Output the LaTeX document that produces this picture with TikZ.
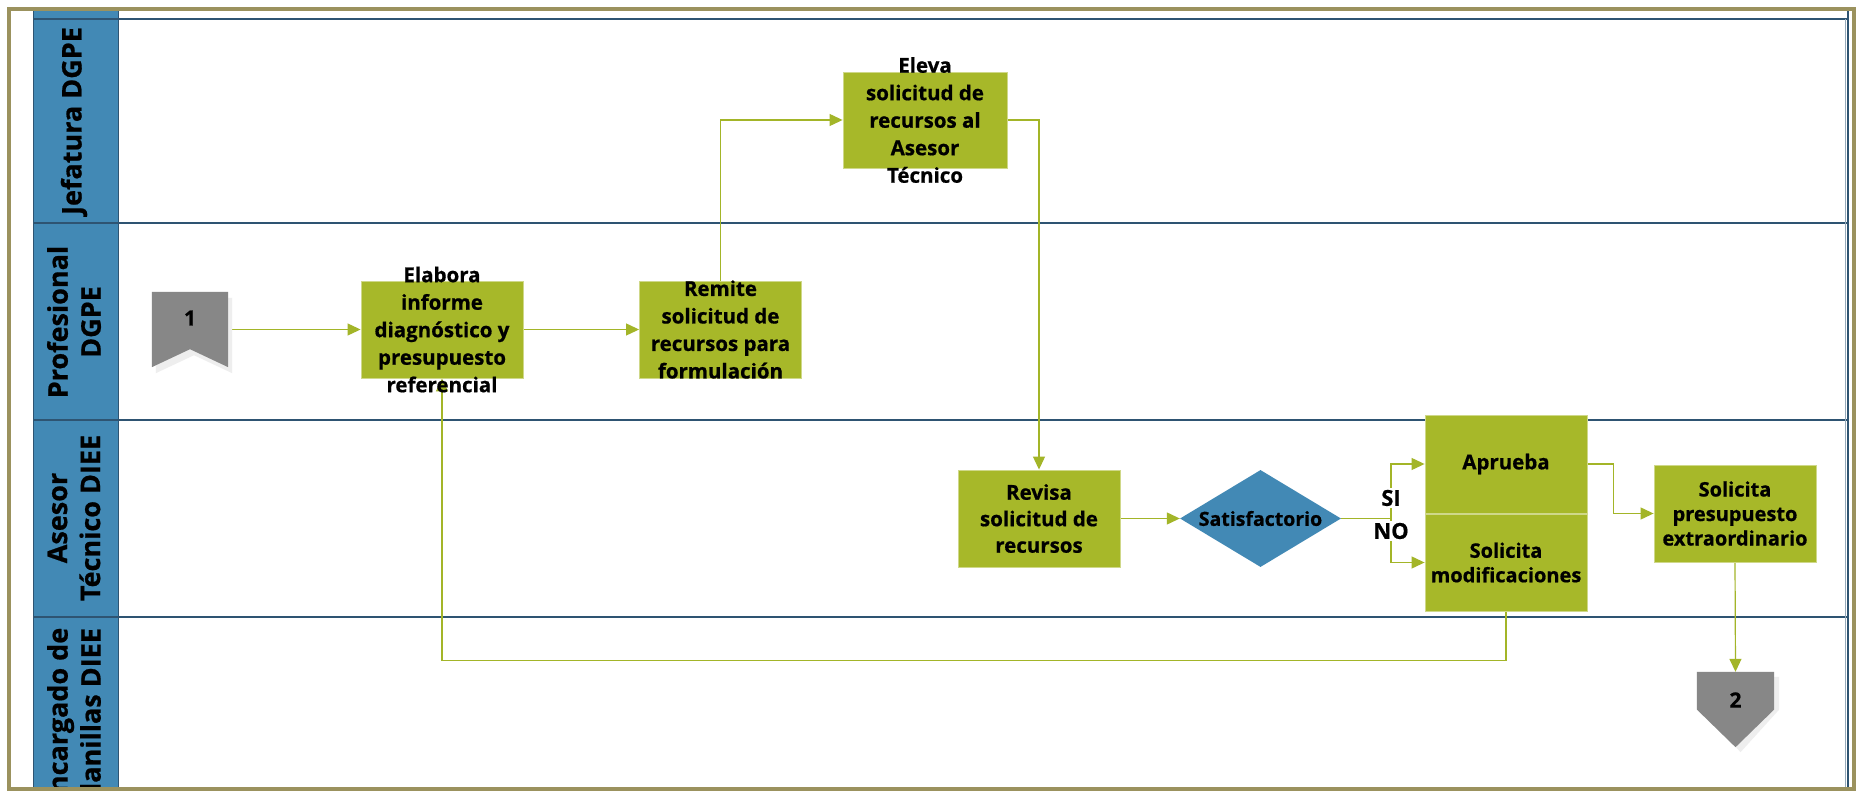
\documentclass[tikz,border=0pt]{standalone}
\usepackage{fontspec}
\setmainfont{Open Sans}[BoldFeatures={FakeBold=0.7}]
\usetikzlibrary{arrows.meta,shapes.geometric}
\pgfdeclarelayer{lanes}
\pgfdeclarelayer{flows}
\pgfsetlayers{lanes,flows,main}
\definecolor{frameolive}{RGB}{155,146,94}
\definecolor{lanehead}{RGB}{66,137,181}
\definecolor{laneline}{RGB}{46,84,114}
\definecolor{taskgreen}{RGB}{167,184,41}
\definecolor{flowgreen}{RGB}{163,181,40}
\definecolor{pagegray}{RGB}{135,135,135}
\definecolor{shadowgray}{RGB}{238,238,238}
\tikzset{
  taskbox/.style={draw=taskgreen!55!white, line width=0.9, fill=taskgreen,
    minimum width=162, minimum height=97, inner sep=0},
  tasktext/.style={font=\bfseries\fontsize{20.5}{27.5}\selectfont, align=center, inner sep=0},
  tighttext/.style={font=\bfseries\fontsize{20}{24.5}\selectfont, align=center, inner sep=0},
  decision/.style={diamond, fill=lanehead, minimum width=161, minimum height=97, inner sep=0},
  flow/.style={draw=flowgreen, line width=1.2, -{Triangle[length=13,width=12]}},
  flowline/.style={draw=flowgreen, line width=1.2},
  lanetext/.style={font=\bfseries\fontsize{27}{33}\selectfont, rotate=90, align=center},
  branchtext/.style={font=\bfseries\fontsize{22}{24}\selectfont, fill=white, inner sep=1.5},
  pagebox/.style={minimum width=76, minimum height=75, inner sep=0},
  pagetext/.style={font=\bfseries\fontsize{21}{24}\selectfont}
}
\begin{document}
\begin{tikzpicture}[x=1pt,y=-1pt]
\useasboundingbox (0,0) rectangle (1864,791);

% swimlanes
\begin{pgfonlayer}{lanes}
  \fill[white] (0,0) rectangle (1864,791);
  \begin{scope}
    \clip (9,9) rectangle (1854,789);
    \fill[lanehead] (33,9) rectangle (118,795);
    \draw[laneline, line width=1] (33,9) -- (33,795) (118,9) -- (118,795);
    \foreach \yy in {19,223,420,617}
      \draw[laneline, line width=1.3] (33,\yy) -- (1847,\yy);
    \draw[laneline!50!white, line width=1] (1845,19) -- (1845,795);
    \draw[laneline, line width=1.3] (1848,9) -- (1848,795);
    \node[lanetext] (lane1) at (74,121) {Jefatura DGPE};
    \node[lanetext] (lane2) at (74,322) {Profesional\\DGPE};
    \node[lanetext] (lane3) at (74,518) {Asesor\\Técnico DIEE};
    \node[lanetext] (lane4) at (74,718) {Encargado de\\Planillas DIEE};
  \end{scope}
  \draw[frameolive, line width=3.8] (9,9) rectangle (1854,789);
\end{pgfonlayer}

% off-page connector 1 (bookmark shape with a notch underneath)
\node[pagebox] (c1) at (190,329.5) {};
\fill[shadowgray] ([shift={(4,6)}]c1.north west) -- ([shift={(4,6)}]c1.north east)
  -- ([shift={(4,6)}]c1.south east) -- ([shift={(4,-12)}]c1.south)
  -- ([shift={(4,6)}]c1.south west) -- cycle;
\fill[pagegray] (c1.north west) -- (c1.north east) -- (c1.south east)
  -- ([yshift=18]c1.south) -- (c1.south west) -- cycle;
\node[pagetext] at (190,318) {1};

% off-page connector 2 (pentagon pointing down)
\node[pagebox, minimum width=77] (c2) at (1735.5,709.5) {};
\fill[shadowgray] ([shift={(5,5)}]c2.north west) -- ([shift={(5,5)}]c2.north east)
  -- ([shift={(5,0)}]c2.east) -- ([shift={(5,5)}]c2.south) -- ([shift={(5,0)}]c2.west) -- cycle;
\fill[pagegray] (c2.north west) -- (c2.north east) -- (c2.east) -- (c2.south) -- (c2.west) -- cycle;
\node[pagetext] at (1735.5,700) {2};

% tasks
\node[taskbox, label={[tasktext]center:Elabora\\informe\\diagnóstico y\\presupuesto\\referencial}]
  (elabora) at (442,329.5) {};
\node[taskbox, label={[tasktext]center:Remite\\solicitud de\\recursos para\\formulación}]
  (remite) at (720.5,329.5) {};
\node[taskbox, minimum width=164, minimum height=96, label={[tasktext]center:Eleva\\solicitud de\\recursos al\\Asesor\\Técnico}]
  (eleva) at (925,120) {};
\node[taskbox, label={[tasktext, font=\bfseries\fontsize{20.5}{26.5}\selectfont]center:Revisa\\solicitud de\\recursos}]
  (revisa) at (1039,518.5) {};
\node[decision, label={[tasktext, font=\bfseries\fontsize{19.5}{24}\selectfont]center:Satisfactorio}]
  (sat) at (1260.5,518.5) {};
\node[taskbox, minimum height=98, label={[tasktext]center:Aprueba}]
  (aprueba) at (1506,464) {};
\node[taskbox, minimum height=97, label={[tighttext]center:Solicita\\modificaciones}]
  (modif) at (1506,562.5) {};
\node[taskbox, minimum width=162, label={[tighttext]center:Solicita\\presupuesto\\extraordinario}]
  (presup) at (1735,513.5) {};

% flow connectors
\begin{pgfonlayer}{flows}
  \draw[flow] (c1.east) -- (elabora.west);
  \draw[flow] (elabora.east) -- (remite.west);
  \draw[flow] (remite.north) |- (eleva.west);
  \draw[flow] (eleva.east) -| (revisa.north);
  \draw[flow] (revisa.east) -- (sat.west);
  \coordinate (split) at (1391,518.5);
  \draw[flowline] (sat.east) -- (split);
  \draw[flow] (split) |- (aprueba.west);
  \draw[flow] (split) |- (modif.west);
  \draw[flow] (aprueba.east) -- ++(26,0) |- (presup.west);
  \draw[flow] (presup.south) -- (c2.north);
  \draw[flow] (modif.south) -- ++(0,49) -| (elabora.south);
\end{pgfonlayer}
\node[branchtext] (si) at (1391,498) {SI};
\node[branchtext] (no) at (1391,531) {NO};
\end{tikzpicture}
\end{document}
